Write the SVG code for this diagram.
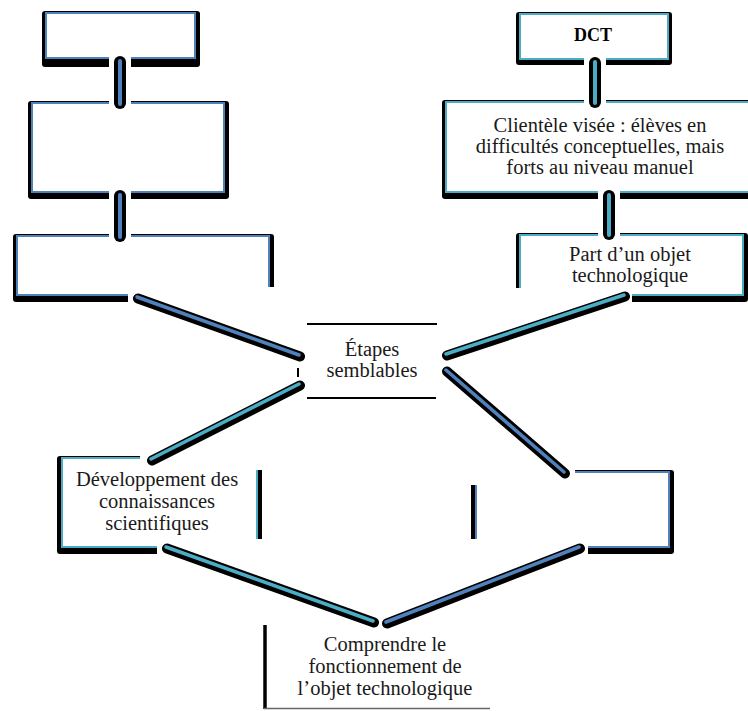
<svg xmlns="http://www.w3.org/2000/svg" width="748" height="711" viewBox="0 0 748 711">
  <style>
    .shadow { fill: #000; }
    .face-blue { fill: #fff; stroke: #4F81BD; stroke-width: 2; }
    .face-teal { fill: #fff; stroke: #4BACC6; stroke-width: 2; }
    .rule { stroke: #000; stroke-width: 2; fill: none; }
    .label { font-family: "Liberation Serif", "Times New Roman", serif; font-size: 20.5px; fill: #1a1a1a; text-anchor: middle; }
    .title { font-family: "Liberation Serif", "Times New Roman", serif; font-size: 18px; font-weight: bold; fill: #000; text-anchor: middle; }
    .halo { stroke: #fff; stroke-width: 22; stroke-linecap: butt; fill: none; }
    .bar { stroke: #000; stroke-width: 12; stroke-linecap: round; fill: none; }
    .link { stroke: #000; stroke-width: 10; stroke-linecap: round; fill: none; }
    .core-blue { stroke: #4F81BD; stroke-linecap: round; fill: none; }
    .core-teal { stroke: #4BACC6; stroke-linecap: round; fill: none; }
    .v { stroke-width: 4; }
    .d { stroke-width: 3.5; }
  </style>
  <defs>
    <clipPath id="clip-box3">
      <rect x="0" y="220" width="300" height="67"/>
      <rect x="0" y="287" width="128" height="30"/>
    </clipPath>
    <clipPath id="clip-part">
      <rect x="500" y="220" width="260" height="68"/>
      <rect x="632" y="288" width="130" height="20"/>
    </clipPath>
    <clipPath id="clip-dev">
      <rect x="40" y="440" width="100" height="120"/>
      <rect x="40" y="540" width="117" height="20"/>
      <rect x="240" y="470" width="30" height="69"/>
    </clipPath>
    <clipPath id="clip-lowright">
      <rect x="575" y="460" width="13" height="20"/>
      <rect x="588" y="460" width="100" height="100"/>
      <rect x="465" y="485" width="15" height="54"/>
    </clipPath>
  </defs>

  <rect width="748" height="711" fill="#fff"/>

  <!-- left column -->
  <g id="box-left-1">
    <rect class="shadow" x="42" y="11" width="158" height="56" rx="3"/>
    <rect class="face-blue" x="46" y="13" width="149" height="45"/>
  </g>
  <g id="box-left-2">
    <rect class="shadow" x="28" y="101" width="201" height="98" rx="3"/>
    <rect class="face-blue" x="32" y="103" width="192" height="89"/>
  </g>
  <g id="box-left-3" clip-path="url(#clip-box3)">
    <rect class="shadow" x="13" y="234" width="261" height="68" rx="3"/>
    <rect class="face-blue" x="17" y="236" width="252" height="59"/>
  </g>

  <!-- right column -->
  <g id="box-dct">
    <rect class="shadow" x="516" y="12" width="156" height="53" rx="3"/>
    <rect class="face-teal" x="520" y="14" width="148" height="45"/>
    <text class="title" x="593" y="41">DCT</text>
  </g>
  <g id="box-clientele">
    <rect class="shadow" x="442" y="100" width="320" height="99" rx="3"/>
    <rect class="face-teal" x="446" y="102" width="320" height="90"/>
    <text class="label" x="600" y="132">Clientèle visée : élèves en</text>
    <text class="label" x="600" y="153">difficultés conceptuelles, mais</text>
    <text class="label" x="600" y="174">forts au niveau manuel</text>
  </g>
  <g id="box-part">
    <g clip-path="url(#clip-part)">
      <rect class="shadow" x="516" y="233" width="232" height="69" rx="3"/>
      <rect class="face-teal" x="520" y="235" width="223" height="60"/>
    </g>
    <text class="label" x="630" y="261">Part d’un objet</text>
    <text class="label" x="630" y="282">technologique</text>
  </g>

  <!-- centre -->
  <g id="box-etapes">
    <line class="rule" x1="307" y1="324" x2="437" y2="324"/>
    <line class="rule" x1="307" y1="398" x2="436" y2="398"/>
    <line class="rule" x1="298" y1="368" x2="298" y2="377" stroke-width="2.5"/>
    <text class="label" x="372" y="356">Étapes</text>
    <text class="label" x="372" y="377">semblables</text>
  </g>

  <g id="box-developpement">
    <g clip-path="url(#clip-dev)">
      <rect class="shadow" x="57" y="456" width="205" height="98" rx="3"/>
      <rect class="face-teal" x="62" y="458" width="195" height="89"/>
    </g>
    <text class="label" x="157" y="486">Développement des</text>
    <text class="label" x="157" y="508">connaissances</text>
    <text class="label" x="157" y="530">scientifiques</text>
  </g>

  <g id="box-lower-right" clip-path="url(#clip-lowright)">
    <rect class="shadow" x="471" y="470" width="203" height="84" rx="3"/>
    <rect class="face-blue" x="476" y="472" width="193" height="75"/>
  </g>

  <g id="box-comprendre">
    <line x1="265" y1="625" x2="265" y2="709" stroke="#000" stroke-width="3.5"/>
    <line x1="264" y1="708.5" x2="490" y2="708.5" stroke="#666" stroke-width="1.5"/>
    <text class="label" x="385" y="651">Comprendre le</text>
    <text class="label" x="385" y="673">fonctionnement de</text>
    <text class="label" x="385" y="695">l’objet technologique</text>
  </g>

  <!-- connectors -->
  <g id="connectors">
    <!-- vertical links between stacked boxes -->
    <line class="halo" x1="120" y1="57" x2="120" y2="108"/>
    <line class="bar" x1="120" y1="62" x2="120" y2="103"/>
    <line class="core-blue v" x1="120" y1="61" x2="120" y2="104"/>

    <line class="halo" x1="120" y1="190" x2="120" y2="242"/>
    <line class="bar" x1="120" y1="196" x2="120" y2="236"/>
    <line class="core-blue v" x1="120" y1="195" x2="120" y2="237"/>

    <line class="halo" x1="595" y1="57" x2="595" y2="108"/>
    <line class="bar" x1="595" y1="63" x2="595" y2="102"/>
    <line class="core-teal v" x1="595" y1="62" x2="595" y2="103"/>

    <line class="halo" x1="609" y1="190" x2="609" y2="240"/>
    <line class="bar" x1="609" y1="196" x2="609" y2="234"/>
    <line class="core-teal v" x1="609" y1="195" x2="609" y2="235"/>

    <!-- diagonal links through the centre -->
    <line class="link" x1="138" y1="298.5" x2="300" y2="356.5"/>
    <line class="core-blue d" x1="137" y1="297" x2="299" y2="355"/>

    <line class="link" x1="625" y1="296.5" x2="447" y2="355.5"/>
    <line class="core-teal d" x1="624" y1="295" x2="446" y2="354"/>

    <line class="link" x1="300" y1="385.5" x2="152" y2="460.5"/>
    <line class="core-teal d" x1="299" y1="384" x2="151" y2="459"/>

    <line class="link" x1="447" y1="371.5" x2="565" y2="473.5"/>
    <line class="core-blue d" x1="446" y1="370" x2="564" y2="472"/>

    <line class="link" x1="167" y1="548.5" x2="374" y2="622.5"/>
    <line class="core-teal d" x1="166" y1="547" x2="373" y2="621"/>

    <line class="link" x1="580" y1="548.5" x2="387" y2="623.5"/>
    <line class="core-blue d" x1="579" y1="547" x2="386" y2="622"/>
  </g>
</svg>
